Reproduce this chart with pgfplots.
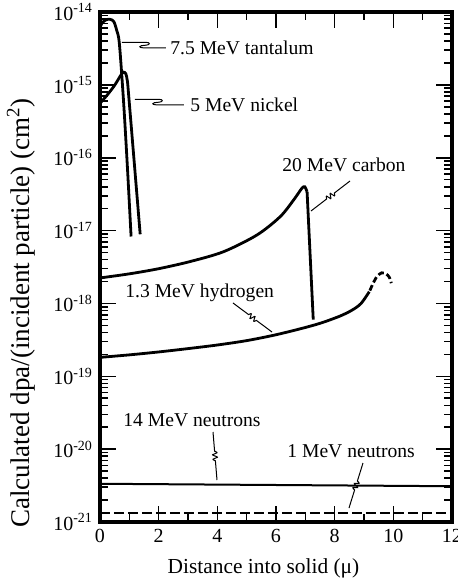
\documentclass[border=0pt]{standalone}
\usepackage{fontspec}
\setmainfont{Liberation Serif}
\usepackage{pgfplots}
\pgfplotsset{compat=1.18}
\usetikzlibrary{calc}

% leader line with a small S-shaped break in the middle
\newcommand\leader[2]{%
  \draw[line width=0.5pt] (#1) -- ($(#1)!0.40!(#2)$)
    .. controls ($(#1)!0.47!(#2)!4pt!90:(#2)$) and ($(#1)!0.44!(#2)!4pt!-90:(#2)$) .. ($(#1)!0.5!(#2)$)
    .. controls ($(#1)!0.56!(#2)!4pt!90:(#2)$) and ($(#1)!0.53!(#2)!4pt!-90:(#2)$) .. ($(#1)!0.60!(#2)$)
    -- (#2);}

\begin{document}
\begin{tikzpicture}
\begin{axis}[%
name=ax,
at={(0,0)}, anchor=south west,
width=176pt,
height=255pt,
scale only axis,
xmin=0, xmax=12,
ymode=log, log basis y=10,
ymin=1e-21, ymax=1e-14,
xtick={0,2,...,12},
minor x tick num=1,
ytickten={-21,...,-14},
minor ytick={2e-21,3e-21,4e-21,5e-21,6e-21,7e-21,8e-21,9e-21,
2e-20,3e-20,4e-20,5e-20,6e-20,7e-20,8e-20,9e-20,
2e-19,3e-19,4e-19,5e-19,6e-19,7e-19,8e-19,9e-19,
2e-18,3e-18,4e-18,5e-18,6e-18,7e-18,8e-18,9e-18,
2e-17,3e-17,4e-17,5e-17,6e-17,7e-17,8e-17,9e-17,
2e-16,3e-16,4e-16,5e-16,6e-16,7e-16,8e-16,9e-16,
2e-15,3e-15,4e-15,5e-15,6e-15,7e-15,8e-15,9e-15},
yticklabel={10\textsuperscript{\pgfmathparse{int(round(\tick))}\pgfmathresult}},
tick align=inside,
major tick length=8pt,
minor tick length=4pt,
every tick/.style={black, line width=0.8pt},
axis line style={line width=1.6pt},
tick label style={font=\fontsize{10}{12}\selectfont},
xticklabel style={/pgf/number format/assume math mode=true},
xlabel={Distance into solid (μ)},
xlabel style={at={(axis description cs:0.4645,-0.1)}, anchor=base, font=\fontsize{10.7}{13}\selectfont},
ylabel={Calculated dpa/(incident particle) (cm\textsuperscript{2})},
ylabel style={at={(axis description cs:-0.199,0.41)}, anchor=base, rotate=0, font=\fontsize{13.5}{16}\selectfont},
]
% 7.5 MeV tantalum
\addplot [black, line width=1.4pt, smooth] coordinates {
(0,6.0e-15) (0.06,7.0e-15) (0.2,7.8e-15) (0.34,7.95e-15) (0.47,7.4e-15)
(0.57,5.6e-15) (0.66,3.7e-15) (0.8,6.2e-16) (0.93,8.0e-17) (1.06,8.3e-18)};
% 5 MeV nickel
\addplot [black, line width=1.4pt, smooth] coordinates {
(0,5.6e-16) (0.25,7.3e-16) (0.5,9.9e-16) (0.72,1.38e-15) (0.8,1.5e-15)
(0.88,1.42e-15) (0.93,1.15e-15) (0.98,7.0e-16) (1.37,8.9e-18)};
% 20 MeV carbon
\addplot [black, line width=1.4pt, smooth] coordinates {
(0,2.24e-18) (1,2.55e-18) (2,3.0e-18) (3.07,3.76e-18) (4.21,5.13e-18)
(5.35,8.7e-18) (6.14,1.55e-17) (6.6,2.63e-17) (6.88,3.8e-17) (6.98,4.0e-17) (7.06,3.4e-17)};
\addplot [black, line width=1.4pt] coordinates {(7.06,3.4e-17) (7.27,6.0e-19)};
% 1.3 MeV hydrogen
\addplot [black, line width=1.4pt, smooth] coordinates {
(0,1.82e-19) (1,1.97e-19) (2,2.16e-19) (3,2.40e-19) (4,2.69e-19) (5,3.09e-19)
(6,3.72e-19) (7,4.68e-19) (7.6,5.50e-19) (8.2,6.76e-19) (8.6,8.13e-19) (8.9,1.0e-18) (9.18,1.45e-18)};
\addplot [black, line width=1.4pt, smooth, dash pattern=on 3pt off 1.5pt] coordinates {
(9.2,1.5e-18) (9.3,1.85e-18) (9.44,2.34e-18) (9.6,2.63e-18) (9.75,2.55e-18) (9.86,2.3e-18) (9.93,1.9e-18)};
% 14 MeV neutrons
\addplot [black, line width=1pt] coordinates {(0,3.35e-21) (12,3.1e-21)};
% 1 MeV neutrons
\addplot [black, line width=1pt, dash pattern=on 5pt off 2pt] coordinates {(0,1.33e-21) (12,1.33e-21)};
\end{axis}

\begin{scope}[x=0.5pt, y=-0.5pt, shift={(-100,-522)}, font=\fontsize{9.8}{12}\selectfont]
\node[anchor=base west, inner sep=0pt] at (170,55) {7.5 MeV tantalum};
\node[anchor=base west, inner sep=0pt] at (190,112) {5 MeV nickel};
\node[anchor=base west, inner sep=0pt] at (282,172) {20 MeV carbon};
\node[anchor=base west, inner sep=0pt] at (125,298) {1.3 MeV hydrogen};
\node[anchor=base west, inner sep=0pt] at (123,426) {14 MeV neutrons};
\node[anchor=base west, inner sep=0pt] at (287,457) {1 MeV neutrons};
\draw[line width=0.5pt] (122,42.3) -- (146,42.3) .. controls (151,42.3) and (150,45.3) .. (145,45.3)
  .. controls (139,45.3) and (138,47.8) .. (143,47.8) -- (166,47.8);
\draw[line width=0.5pt] (135,99.3) -- (159,99.3) .. controls (164,99.3) and (163,102.3) .. (158,102.3)
  .. controls (152,102.3) and (151,104.8) .. (156,104.8) -- (184,104.8);
\leader{350,181}{311,211}
\leader{233,303}{272,332}
\leader{213,432}{217,480}
\leader{363,463}{349,508}
\pgfresetboundingbox
\path[use as bounding box] (0,0) rectangle (457,579);
\end{scope}
\end{tikzpicture}
\end{document}
